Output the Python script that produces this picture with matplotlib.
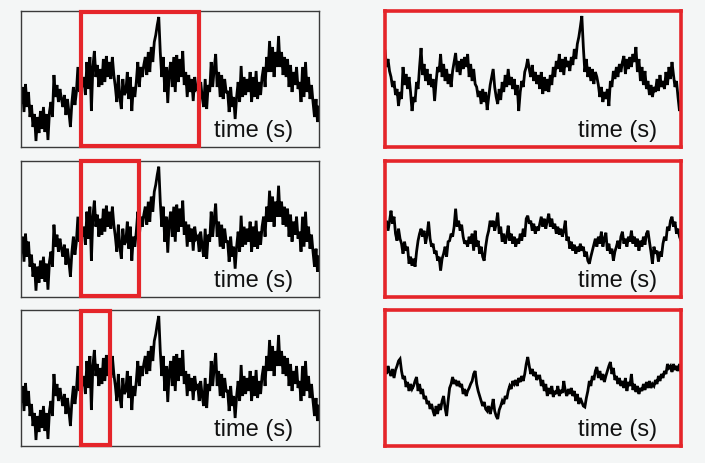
import matplotlib
matplotlib.use("Agg")
import matplotlib.pyplot as plt
import matplotlib.transforms as mtransforms
from matplotlib.patches import Rectangle
import numpy as np

# Full recording shown in the three left panels (amplitude, arbitrary units)
full_trace = [
    45, 60, 35, 63, 40, 55, 30, 42, 20, 33, 6, 30, 14, 36, 18, 40, 15, 33, 7,
    35, 45, 30, 72, 50, 62, 45, 58, 48, 40, 52, 32, 48, 35, 20, 45, 60, 42, 55,
    80, 55, 75, 60, 70, 52, 85, 58, 90, 36, 80, 96, 70, 82, 60, 78, 62, 88, 65,
    91, 70, 85, 68, 90, 72, 60, 45, 72, 50, 38, 68, 52, 55, 75, 48, 70, 36, 60,
    50, 65, 85, 60, 80, 70, 82, 90, 72, 95, 75, 100, 85, 105, 112, 122, 130, 95,
    70, 90, 55, 80, 44, 75, 85, 60, 90, 55, 92, 65, 88, 70, 96, 62, 75, 50, 72,
    55, 68, 46, 70, 58, 60, 45, 65, 50, 40, 68, 38, 62, 55, 85, 60, 78, 93, 60,
    75, 50, 72, 48, 68, 55, 55, 35, 60, 40, 50, 28, 50, 65, 45, 81, 50, 70, 52,
    68, 55, 75, 45, 70, 50, 76, 48, 65, 52, 70, 80, 60, 90, 75, 106, 75, 100, 70,
    95, 80, 111, 80, 95, 72, 90, 70, 88, 60, 82, 55, 75, 62, 80, 58, 65, 45, 80,
    50, 85, 55, 70, 48, 62, 45, 30, 48, 25, 40,
]

# Window (sample indices) highlighted in each left panel
window_start = [40, 40, 40]
window_end = [119, 79, 59.5]

# Zoomed recordings shown in the right panels
zoom_trace_1 = [
    96, 80, 88, 76, 70, 60, 66, 52, 58, 41, 55, 48, 80, 62, 73, 58, 70, 55, 36,
    50, 45, 65, 58, 80, 99, 72, 83, 66, 78, 62, 73, 60, 68, 46, 65, 80, 75, 93,
    70, 83, 66, 78, 63, 73, 60, 76, 85, 94, 75, 86, 72, 88, 78, 90, 80, 93, 70,
    83, 66, 78, 63, 60, 50, 56, 43, 58, 45, 55, 37, 50, 62, 70, 78, 60, 50, 43,
    58, 47, 65, 55, 72, 60, 78, 62, 70, 58, 68, 52, 62, 36, 55, 66, 60, 75, 80,
    88, 78, 70, 82, 66, 75, 63, 72, 58, 75, 53, 70, 56, 68, 55, 72, 62, 80, 70,
    86, 78, 93, 75, 88, 72, 90, 80, 86, 76, 90, 82, 98, 88, 103, 110, 120, 131,
    100, 75, 88, 70, 80, 66, 78, 63, 75, 70, 62, 50, 60, 45, 55, 48, 58, 41, 66,
    60, 76, 68, 80, 70, 83, 75, 85, 91, 73, 88, 78, 90, 80, 93, 85, 100, 75, 88,
    66, 80, 62, 76, 58, 66, 52, 62, 50, 60, 55, 68, 56, 72, 60, 66, 58, 75, 62,
    80, 68, 85, 72, 60, 66, 50, 36, 45,
]

zoom_trace_2 = [
    70, 76, 66, 75, 86, 73, 80, 63, 56, 68, 58, 53, 43, 55, 46, 50, 33, 40, 31,
    38, 30, 45, 56, 63, 68, 60, 66, 53, 62, 75, 58, 50, 53, 43, 46, 36, 40, 26,
    38, 43, 50, 40, 55, 56, 63, 60, 70, 88, 70, 76, 66, 72, 60, 53, 56, 50, 60,
    53, 63, 46, 66, 50, 56, 43, 50, 40, 36, 50, 60, 66, 76, 70, 76, 66, 73, 84,
    63, 70, 55, 63, 53, 60, 71, 56, 63, 53, 60, 50, 58, 53, 63, 56, 68, 60, 78,
    81, 73, 76, 66, 73, 63, 70, 66, 73, 80, 70, 78, 68, 76, 83, 70, 78, 68, 73,
    63, 70, 62, 68, 60, 66, 76, 56, 60, 48, 55, 46, 52, 43, 50, 45, 53, 46, 50,
    40, 45, 36, 33, 40, 46, 52, 58, 50, 60, 53, 65, 50, 58, 64, 46, 53, 43, 48,
    36, 45, 50, 56, 48, 60, 65, 53, 58, 50, 60, 55, 66, 53, 60, 50, 58, 46, 56,
    50, 60, 52, 63, 66, 55, 45, 33, 50, 43, 46, 35, 45, 40, 53, 60, 56, 70, 66,
    76, 80, 70, 75, 63, 68, 60, 56,
]

zoom_trace_3 = [
    79, 72, 80, 74, 70, 77, 68, 76, 80, 85, 87, 75, 67, 70, 59, 64, 55, 62, 57,
    60, 65, 69, 55, 62, 52, 57, 47, 50, 42, 45, 37, 42, 35, 30, 40, 32, 42, 36,
    45, 50, 38, 30, 45, 58, 62, 69, 62, 66, 60, 65, 59, 62, 52, 57, 50, 55, 58,
    62, 65, 72, 75, 62, 55, 50, 45, 40, 44, 37, 35, 40, 32, 38, 47, 35, 30, 27,
    36, 40, 45, 42, 50, 47, 55, 60, 57, 65, 62, 66, 60, 68, 64, 70, 65, 72, 82,
    89, 80, 72, 77, 70, 74, 66, 70, 70, 60, 66, 55, 62, 50, 58, 52, 60, 49, 55,
    52, 60, 50, 56, 53, 65, 55, 50, 57, 52, 58, 50, 55, 45, 52, 42, 48, 44, 40,
    39, 48, 55, 65, 60, 70, 66, 75, 79, 68, 75, 66, 72, 64, 70, 75, 80, 84, 72,
    78, 66, 70, 62, 68, 60, 65, 58, 68, 55, 64, 60, 72, 56, 62, 54, 60, 52, 58,
    55, 62, 56, 64, 58, 65, 58, 62, 60, 66, 62, 70, 65, 72, 68, 75, 72, 82, 78,
    80, 74, 82, 76, 80, 75, 82, 74,
]

zoom_traces = [zoom_trace_1, zoom_trace_2, zoom_trace_3]
x_label = "time (s)"

BG = "#f4f6f6"
RED = "#e5252a"
FRAME = "#3a3a3a"

fig = plt.figure(figsize=(7.05, 4.64), dpi=100, facecolor=BG)

W, H = 705.0, 464.0
rows_px = [(12, 148), (161.7, 297.7), (311, 447)]
left_px = (21, 319)
right_px = (385, 681)


def make_axes(xpx, ypx):
    return fig.add_axes([xpx[0] / W, 1 - ypx[1] / H,
                         (xpx[1] - xpx[0]) / W, (ypx[1] - ypx[0]) / H])


for r in range(3):
    # left panel: full recording with highlighted window
    ax = make_axes(left_px, rows_px[r])
    ax.set_facecolor(BG)
    t = np.arange(len(full_trace))
    ax.plot(t, full_trace, color="black", lw=2.0, solid_joinstyle="miter")
    ax.set_xlim(0, len(full_trace) - 1)
    ax.set_ylim(0, 136)
    ax.set_xticks([])
    ax.set_yticks([])
    for s in ax.spines.values():
        s.set_color(FRAME)
        s.set_linewidth(1.0)
    trans = mtransforms.blended_transform_factory(ax.transData, ax.transAxes)
    rect = Rectangle((window_start[r], 0.005), window_end[r] - window_start[r], 0.99,
                     transform=trans, fill=False, edgecolor=RED, lw=3.0,
                     clip_on=False, zorder=5)
    ax.add_patch(rect)
    ax.text(0.78, 0.125, x_label, transform=ax.transAxes, ha="center", va="center",
            fontsize=17, family=["Liberation Sans", "DejaVu Sans"], color="#111111")

    # right panel: zoomed window
    ax2 = make_axes(right_px, rows_px[r])
    ax2.set_facecolor(BG)
    z = zoom_traces[r]
    tz = np.arange(len(z))
    ax2.plot(tz, z, color="black", lw=2.0, solid_joinstyle="miter")
    ax2.set_xlim(0, len(z) - 1)
    ax2.set_ylim(0, 136)
    ax2.set_xticks([])
    ax2.set_yticks([])
    for s in ax2.spines.values():
        s.set_color(RED)
        s.set_linewidth(2.6)
    ax2.text(0.784, 0.125, x_label, transform=ax2.transAxes, ha="center", va="center",
             fontsize=17, family=["Liberation Sans", "DejaVu Sans"], color="#111111")

fig.savefig("out.png", dpi=100, facecolor=BG)
